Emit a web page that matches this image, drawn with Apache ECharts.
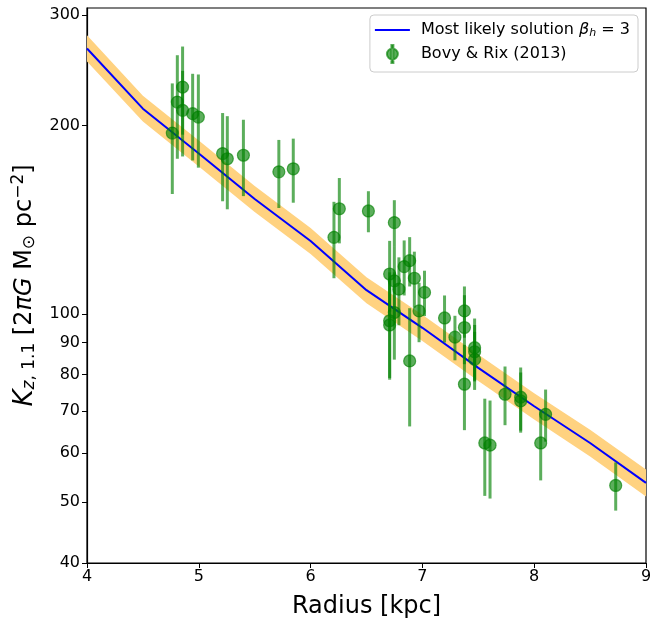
<!DOCTYPE html>
<html><head><meta charset="utf-8">
<script src="https://cdn.jsdelivr.net/npm/echarts@6/dist/echarts.min.js"></script>
<style>html,body{margin:0;padding:0;background:#fff}#c{width:650px;height:621px}</style>
</head><body><div id="c"></div>
<script>
// Model curve (most likely solution) and its uncertainty band
const modelR   = [4.0, 4.5, 5.0, 5.5, 6.0, 6.5, 7.0, 7.5, 8.0, 8.5, 9.0];
const modelK   = [265.4, 212.7, 180.4, 152.6, 130.7, 109.1, 95.0, 82.0, 71.2, 62.2, 53.7];
const bandHigh = [278.5, 223.0, 189.2, 160.0, 137.1, 114.4, 99.7, 86.1, 74.7, 65.3, 56.4];
const bandLow  = [253.0, 202.9, 172.0, 145.5, 124.6, 104.0, 90.5, 78.1, 67.8, 59.2, 51.1];

// Bovy & Rix (2013) measurements
const obsR = [4.763, 4.808, 4.855, 4.855, 4.945, 4.996, 5.213, 5.255, 5.399, 5.716, 5.845,
              6.209, 6.257, 6.517, 6.749, 6.707, 6.749, 6.790, 6.837, 6.886, 6.928, 7.019,
              6.970, 6.749, 6.707, 6.707, 6.886, 7.198, 7.291, 7.376, 7.376, 7.376, 7.467,
              7.467, 7.467, 7.558, 7.605, 7.739, 7.879, 7.879, 8.058, 8.102, 8.729];
const obsK = [194.4, 217.9, 230.3, 211.4, 208.8, 206.2, 180.3, 176.9, 179.2, 168.6, 170.5,
              132.5, 147.2, 146.0, 139.9, 115.8, 112.9, 109.5, 119.0, 121.6, 114.0, 108.2,
              101.1, 100.5, 97.5, 96.0, 84.1, 98.5, 91.8, 101.1, 95.1, 77.2, 88.3,
              87.0, 84.6, 62.2, 61.7, 74.4, 73.6, 72.6, 62.2, 69.1, 53.2];
const obsErr = [39, 41, 37, 33, 33, 35, 29, 30, 25, 21, 20,
                18.5, 17.6, 11, 12, 15, 15, 13.6, 12, 11, 11.7, 9,
                11, 16, 19, 17, 18, 8.5, 7.5, 9.5, 12, 12, 10,
                9, 9, 11, 11, 8, 8.5, 8, 8, 6.6, 4.7];

const xTickValues = [4, 5, 6, 7, 8, 9];
const yTickValues = [40, 50, 60, 70, 80, 90, 100, 200, 300];

const LINE_NAME = 'Most likely solution';
const OBS_NAME = 'Bovy & Rix (2013)';
const FONT = 'DejaVu Sans';
const GREEN = 'rgba(0,128,0,0.64)';

const chart = echarts.init(document.getElementById('c'), null, {renderer: 'canvas'});

const option = {
  animation: false,
  backgroundColor: '#fff',
  grid: {left: 87, right: 4, top: 8, bottom: 58, containLabel: false, outerBoundsMode: 'none',
         show: true, borderColor: '#000', borderWidth: 1.2, backgroundColor: 'transparent'},
  legend: {
    orient: 'vertical', right: 12, top: 15,
    padding: [7, 8, 8, 5], itemGap: 5, itemWidth: 35, itemHeight: 18,
    backgroundColor: 'rgba(255,255,255,0.8)', borderColor: '#cccccc', borderWidth: 1, borderRadius: 4,
    selectedMode: false,
    textStyle: {fontFamily: FONT, fontSize: 16, color: '#000', padding: [0, 0, 0, 6],
      rich: {
        it: {fontFamily: FONT, fontSize: 16, fontStyle: 'italic', color: '#000'},
        sub: {fontFamily: FONT, fontSize: 11, fontStyle: 'italic', color: '#000', padding: [7, 0, 0, 0]},
        n: {fontFamily: FONT, fontSize: 16, color: '#000'}
      }},
    formatter: function (name) {
      if (name === LINE_NAME) return '{n|Most likely solution }{it|β}{sub|h}{n| = 3}';
      return name;
    },
    data: [
      {name: LINE_NAME, icon: 'path://M0,0h35v2h-35z', itemStyle: {color: '#0000ff'}},
      {name: OBS_NAME, icon: 'path://M5,0h2v18h-2z M0.5,9a5.5,5.5 0 1,0 11,0a5.5,5.5 0 1,0 -11,0z', itemStyle: {color: GREEN}}
    ]
  },
  xAxis: {
    type: 'value', min: 4, max: 9, interval: 1,
    splitLine: {show: false},
    axisLine: {show: true, onZero: false, lineStyle: {color: '#000', width: 1.2}},
    axisTick: {show: true, length: 5, lineStyle: {color: '#000'}, customValues: xTickValues},
    axisLabel: {fontFamily: FONT, fontSize: 16, color: '#000', margin: 6, customValues: xTickValues},
    name: 'Radius [kpc]', nameLocation: 'middle', nameGap: 32,
    nameTextStyle: {fontFamily: FONT, fontSize: 24, color: '#000'}
  },
  yAxis: {
    type: 'log', logBase: 10, min: 40, max: 308,
    splitLine: {show: false},
    axisLine: {show: true, lineStyle: {color: '#000', width: 1.2}},
    axisTick: {show: true, length: 5, lineStyle: {color: '#000'}, customValues: yTickValues},
    axisLabel: {fontFamily: FONT, fontSize: 16, color: '#000', margin: 7, customValues: yTickValues,
      formatter: function (v) { return String(Math.round(v)); }},
    name: '{K|K}{si|z}{s|, 1.1}{n| [2}{i|πG}{n| M}{s|⊙}{n| pc}{p|−2}{n|]}',
    nameLocation: 'middle', nameRotate: 90, nameGap: 39,
    nameTextStyle: {fontFamily: FONT, fontSize: 24, color: '#000',
      rich: {
        K: {fontFamily: FONT, fontSize: 26, fontStyle: 'italic', color: '#000'},
        si: {fontFamily: FONT, fontSize: 17, fontStyle: 'italic', color: '#000', padding: [10, 0, 0, 0]},
        s: {fontFamily: FONT, fontSize: 17, color: '#000', padding: [10, 0, 0, 0]},
        n: {fontFamily: FONT, fontSize: 24, color: '#000'},
        i: {fontFamily: FONT, fontSize: 24, fontStyle: 'italic', color: '#000'},
        p: {fontFamily: FONT, fontSize: 17, color: '#000', padding: [0, 0, 12, 0]}
      }}
  },
  series: [
    {
      name: 'band', type: 'custom', z: 1, silent: true,
      data: modelR.map((r, i) => [r, bandLow[i], bandHigh[i]]),
      encode: {x: 0, y: [1, 2]},
      renderItem: function (params, api) {
        if (params.dataIndex !== 0) return null;
        const pts = [];
        for (let i = 0; i < modelR.length; i++) pts.push(api.coord([modelR[i], bandHigh[i]]));
        for (let i = modelR.length - 1; i >= 0; i--) pts.push(api.coord([modelR[i], bandLow[i]]));
        return {type: 'polygon', shape: {points: pts}, style: {fill: '#ffd280', stroke: null}};
      }
    },
    {
      name: LINE_NAME, type: 'line', z: 3, symbol: 'none', silent: true,
      data: modelR.map((r, i) => [r, modelK[i]]),
      lineStyle: {color: '#0000ff', width: 2},
      itemStyle: {color: '#0000ff'}
    },
    {
      name: 'errbars', type: 'custom', z: 4, silent: true,
      data: obsR.map((r, i) => [r, obsK[i] - obsErr[i], obsK[i] + obsErr[i]]),
      encode: {x: 0, y: [1, 2]},
      renderItem: function (params, api) {
        const p1 = api.coord([api.value(0), api.value(1)]);
        const p2 = api.coord([api.value(0), api.value(2)]);
        return {type: 'line', shape: {x1: p1[0], y1: p1[1], x2: p2[0], y2: p2[1]},
                style: {stroke: GREEN, lineWidth: 3}};
      }
    },
    {
      name: OBS_NAME, type: 'scatter', z: 5, silent: true,
      symbol: 'circle', symbolSize: 12,
      data: obsR.map((r, i) => [r, obsK[i]]),
      itemStyle: {color: GREEN, borderColor: GREEN, borderWidth: 1.2, opacity: 1}
    }
  ]
};
chart.setOption(option);
</script>
</body></html>
